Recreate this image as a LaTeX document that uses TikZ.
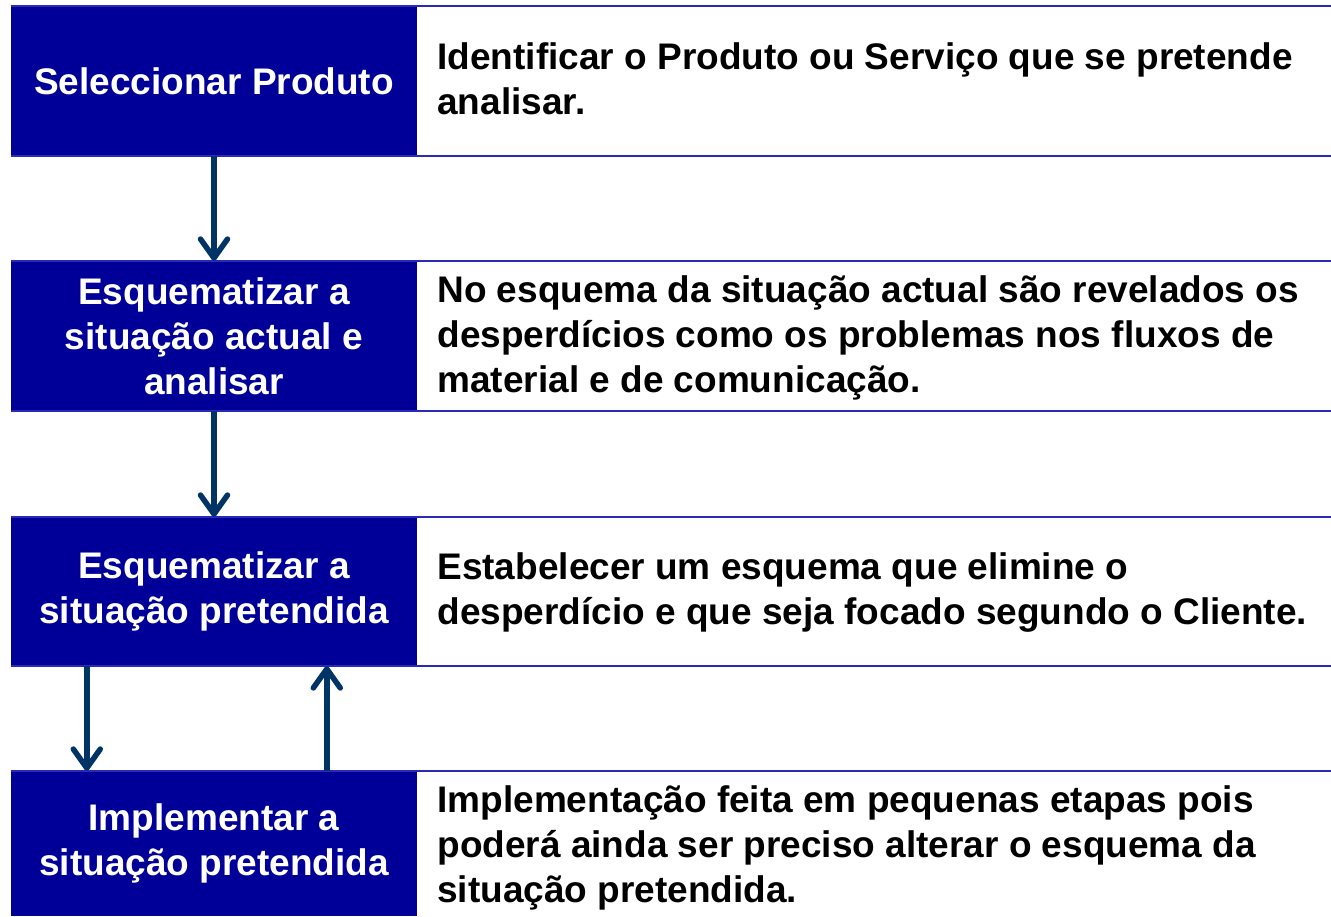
\documentclass[tikz,border=0pt]{standalone}
\usepackage{fontspec}
\setmainfont{Liberation Sans}
\usetikzlibrary{arrows.meta,calc}
\definecolor{boxblue}{HTML}{000099}
\definecolor{ruleblue}{HTML}{2A2AB8}
\definecolor{arrownavy}{HTML}{003366}
\begin{document}
\begin{tikzpicture}[x=1pt,y=-1pt,
  stepbox/.style={fill=boxblue,draw=none,minimum width=406pt,inner sep=0pt,
    text=white,font=\bfseries\fontsize{37}{45}\selectfont,align=center},
  desc/.style={anchor=west,inner sep=0pt,text=black,
    font=\bfseries\fontsize{37}{45}\selectfont,align=left},
  rulel/.style={draw=ruleblue,line width=2.2pt},
  flow/.style={draw=arrownavy,line width=5.5pt,
    -{Straight Barb[length=19pt,width=27pt,line cap=round,line join=round]}}]
\useasboundingbox (0,0) rectangle (1331,916);
\fill[white] (0,0) rectangle (1331,916);

\node[stepbox,minimum height=150pt] (b1) at (214,81) {Seleccionar Produto};
\node[stepbox,minimum height=150pt] (b2) at (214,336) {Esquematizar a\\situação actual e\\analisar};
\node[stepbox,minimum height=149pt] (b3) at (214,591.5) {Esquematizar a\\situação pretendida};
\node[stepbox,minimum height=145pt] (b4) at (214,843.5) {Implementar a\\situação pretendida};

\foreach \b in {b1,b2,b3}{
  \draw[rulel] (\b.north west) -- ++(1320,0);
  \draw[rulel] (\b.south west) -- ++(1320,0);
}
\draw[rulel] (b4.north west) -- ++(1320,0);

\node[desc] (d1) at ($(b1.east)+(20,-2)$) {Identificar o Produto ou Serviço que se pretende\\analisar.};
\node[desc] (d2) at ($(b2.east)+(20,2)$) {No esquema da situação actual são revelados os\\desperdícios como os problemas nos fluxos de\\material e de comunicação.};
\node[desc] (d3) at ($(b3.east)+(20,1)$) {Estabelecer um esquema que elimine o\\desperdício e que seja focado segundo o Cliente.};
\node[desc] (d4) at ($(b4.east)+(20,4)$) {Implementação feita em pequenas etapas pois\\poderá ainda ser preciso alterar o esquema da\\situação pretendida.};

\draw[flow] (b1.south) -- (b2.north);
\draw[flow] (b2.south) -- (b3.north);
\draw[flow] ($(b3.south west)+(76,0)$) -- ($(b4.north west)+(76,0)$);
\draw[flow] ($(b4.north west)+(316,0)$) -- ($(b3.south west)+(316,0)$);
\end{tikzpicture}
\end{document}
